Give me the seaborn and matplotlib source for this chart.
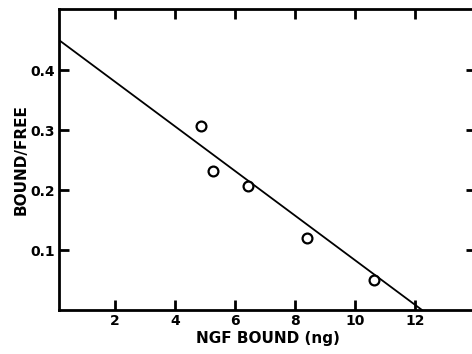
import matplotlib
matplotlib.use("Agg")
import matplotlib.pyplot as plt
import seaborn as sns
import pandas as pd

# data
ngf_bound = [4.87, 5.27, 6.43, 8.40, 10.63]
bound_free = [0.307, 0.232, 0.207, 0.120, 0.050]
fit_x = [0.0, 12.23]
fit_y = [0.455, 0.0]
x_ticks = [2, 4, 6, 8, 10, 12]
y_ticks = [0.1, 0.2, 0.3, 0.4]
y_tick_labels = ["0.1", "0.2", "0.3", "0.4"]

sns.set_theme(style="white")
plt.rcParams["font.family"] = ["DejaVu Sans"]

fig = plt.figure(figsize=(4.72, 3.54), dpi=100)
ax = fig.add_axes([59 / 472, 44 / 354, 417 / 472, 301 / 354])

pts = pd.DataFrame({"x": ngf_bound, "y": bound_free})
fit = pd.DataFrame({"x": fit_x, "y": fit_y})

sns.lineplot(data=fit, x="x", y="y", ax=ax, color="black", linewidth=1.3)
sns.scatterplot(data=pts, x="x", y="y", ax=ax, s=50, facecolor="white",
                edgecolor="black", linewidth=1.6, marker="o", zorder=3)

ax.set_xlim(0.13, 14.03)
ax.set_ylim(0, 0.502)
ax.set_xticks(x_ticks)
ax.set_xticklabels([str(t) for t in x_ticks], fontsize=10, fontweight="bold",
                   color="black")
ax.set_yticks(y_ticks)
ax.set_yticklabels(y_tick_labels, fontsize=10, fontweight="bold", color="black")
ax.tick_params(axis="both", which="both", direction="in", length=7, width=2,
               top=True, right=True, bottom=True, left=True, color="black",
               pad=3)
for s in ax.spines.values():
    s.set_visible(True)
    s.set_color("black")
    s.set_linewidth(2)

ax.set_xlabel("NGF BOUND (ng)", fontsize=11, fontweight="bold", labelpad=2,
              color="black")
ax.set_ylabel("BOUND/FREE", fontsize=11, fontweight="bold", labelpad=1,
              color="black")

fig.savefig("out.png", dpi=100)
